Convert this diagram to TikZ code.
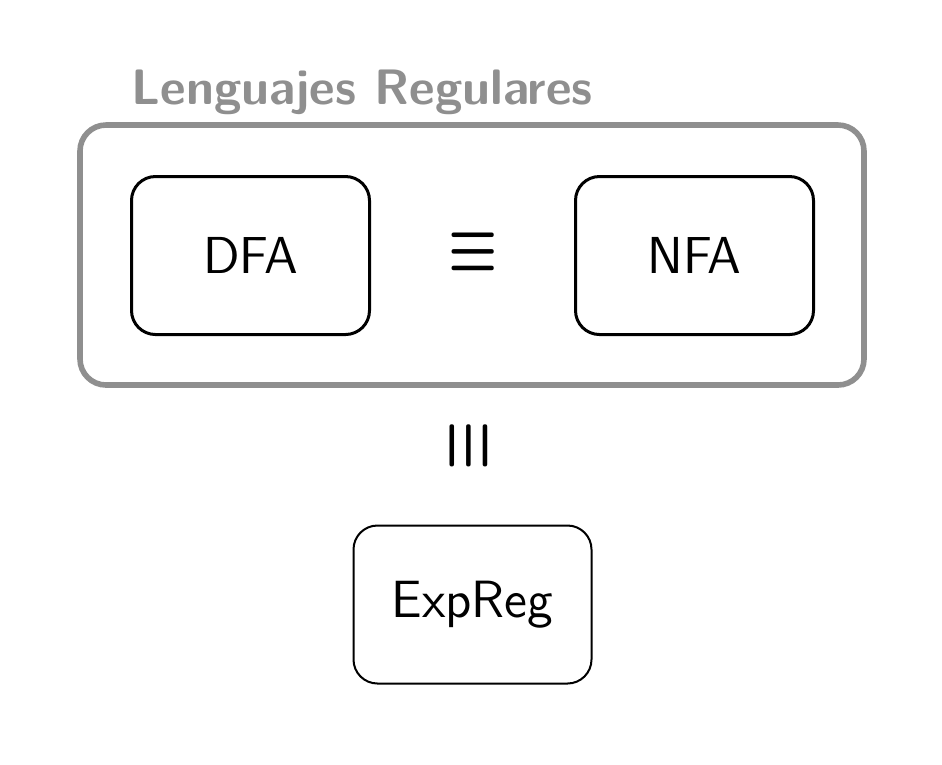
\documentclass[tikz,border=0pt]{standalone}
\usepackage{amsmath}
\begin{document}
\begin{tikzpicture}[x=0.25pt,y=-0.25pt,
  outerbox/.style={draw=black!44,line width=1.4pt,rounded corners=6.5pt,minimum width=196pt,minimum height=65pt,inner sep=0pt},
  autbox/.style={draw=black,line width=0.75pt,rounded corners=6pt,minimum width=59.5pt,minimum height=39.5pt,inner sep=0pt,font=\fontsize{13}{15}\selectfont\sffamily},
  rebox/.style={draw=black,line width=0.5pt,rounded corners=6pt,minimum width=59.5pt,minimum height=39.5pt,inner sep=0pt,font=\fontsize{13.1}{15}\selectfont\sffamily},
  title/.style={text=black!44,font=\fontsize{12.45}{14}\selectfont\sffamily\bfseries,inner sep=0pt,anchor=base west},
  eqsym/.style={inner sep=0pt,font=\fontsize{13}{15}\selectfont}]
\useasboundingbox (0,0) rectangle (942,764);
\node[outerbox] (outer) at (472,255) {};
\node[title] (ttl) at (131,104) {Lenguajes Regulares};
\node[autbox] (dfa) at (250.5,255.5) {DFA};
\node[autbox] (nfa) at (694.5,255.5) {NFA};
\node[eqsym] (eq1) at (473,252) {\scalebox{1.15}[1.55]{\boldmath$\equiv$}};
\node[eqsym,rotate=90] (eq2) at (469,445.5) {\scalebox{1.15}[1.55]{\boldmath$\equiv$}};
\node[rebox] (re) at (472.5,604.5) {ExpReg};
\end{tikzpicture}
\end{document}
